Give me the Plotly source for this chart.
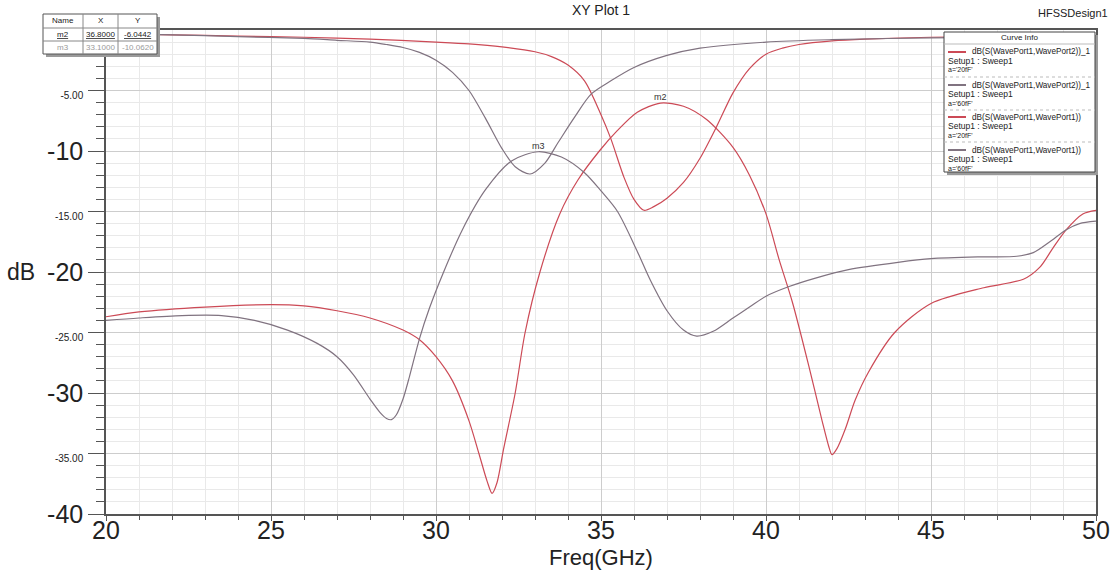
import plotly.graph_objects as go

# ---------------- data ----------------
# S21, a='20fF' (red, upper curve)
f_s21_20 = [20, 22, 24, 26, 28, 30, 31, 32, 33, 33.5, 34, 34.5, 35, 35.3, 35.7, 36.0, 36.3,
            36.6, 37.0, 37.5, 38.0, 38.5, 39.0, 39.5, 40, 40.5, 41, 42, 43, 45, 47, 50]
db_s21_20 = [-0.3, -0.4, -0.5, -0.6, -0.75, -1.0, -1.15, -1.4, -1.8, -2.2, -2.9, -4.2, -7.0, -9.0, -12.2, -14.0, -14.9,
             -14.6, -13.9, -12.6, -10.6, -8.0, -5.2, -3.2, -2.0, -1.5, -1.2, -0.9, -0.75, -0.6, -0.55, -0.5]

# S21, a='60fF' (grey, upper curve)
f_s21_60 = [20, 22, 24, 26, 27, 28, 28.5, 29, 29.5, 30, 30.5, 31, 31.5, 32, 32.4, 32.85, 33.3, 33.7, 34.2, 34.7,
            35.3, 36, 37, 38, 40, 42, 45, 50]
db_s21_60 = [-0.3, -0.4, -0.55, -0.7, -0.85, -1.0, -1.2, -1.45, -1.85, -2.5, -3.5, -5.0, -7.3, -9.8, -11.3, -11.9,
             -11.0, -9.3, -7.2, -5.3, -4.2, -3.1, -2.1, -1.5, -1.0, -0.8, -0.65, -0.55]

# S11, a='20fF' (red, lower curve)
f_s11_20 = [20, 21, 23, 25, 26, 27, 28, 29, 29.5, 30, 30.5, 31, 31.3, 31.55, 31.7, 31.85, 32.05, 32.4, 32.7,
            33.15, 33.75, 34.3, 34.95, 35.5, 36.1, 36.8, 37.5, 38.2, 39, 39.5, 40, 40.4, 40.8, 41.3, 41.7, 41.9,
            42.0, 42.15, 42.4, 42.7, 43.1, 43.9, 45, 46.6, 47.8, 48.3, 48.7, 49.1, 49.6, 50]
db_s11_20 = [-23.7, -23.3, -22.9, -22.7, -22.8, -23.2, -23.8, -24.8, -25.6, -27.0, -29.0, -32.3, -35.0, -37.3, -38.3,
             -37.4, -34.6, -30.0, -25.0, -20.0, -15.2, -12.4, -10.0, -8.3, -6.8, -6.04, -6.3, -7.4, -9.7, -12.0,
             -15.2, -19.0, -22.5, -27.8, -32.3, -34.4, -35.1, -34.6, -33.0, -30.6, -28.3, -25.0, -22.6, -21.3,
             -20.6, -19.6, -18.0, -16.5, -15.2, -14.9]

# S11, a='60fF' (grey, lower curve)
f_s11_60 = [20, 21, 22.3, 23.5, 24.5, 25.5, 26.4, 27.0, 27.5, 28.0, 28.3, 28.5, 28.65, 28.8, 29.0, 29.2, 29.5, 29.8,
            30.2, 30.8, 31.5, 32.3, 33.1, 33.8, 34.5, 35, 35.5, 36.1, 36.5, 37.0, 37.5, 37.9, 38.4, 39,
            39.5, 40, 40.7, 41.5, 42.5, 44, 45, 46.5, 47.6, 48.1, 48.6, 49.1, 49.5, 50]
db_s11_60 = [-24.0, -23.8, -23.6, -23.6, -24.0, -24.8, -25.9, -27.0, -28.5, -30.5, -31.6, -32.1, -32.2, -31.8, -30.5,
             -28.6, -25.5, -23.0, -20.2, -16.5, -13.2, -10.8, -10.06, -10.5, -11.8, -13.3, -15.0, -18.3, -20.7,
             -23.2, -24.8, -25.3, -24.9, -23.8, -22.9, -22.0, -21.2, -20.5, -19.8, -19.2, -18.9, -18.75, -18.7,
             -18.4, -17.5, -16.5, -16.0, -15.8]

marker_names = ["m2", "m3"]
marker_x = [36.8, 33.1]
marker_y = [-6.0442, -10.0620]

series_names = ["dB(S(WavePort1,WavePort2))_1", "dB(S(WavePort1,WavePort2))_1",
                "dB(S(WavePort1,WavePort1))", "dB(S(WavePort1,WavePort1))"]
series_params = ["a='20fF'", "a='60fF'", "a='20fF'", "a='60fF'"]

y_tickvals = [-40, -35, -30, -25, -20, -15, -10, -5]
x_tickvals = [20, 25, 30, 35, 40, 45, 50]

# ---------------- styling ----------------
RED = "rgb(204,74,86)"
GREY = "rgb(128,115,128)"
FONT = "Liberation Sans, Arial, sans-serif"
colors = [RED, GREY, RED, GREY]

fig = go.Figure()
curves = [(f_s21_20, db_s21_20), (f_s21_60, db_s21_60), (f_s11_20, db_s11_20), (f_s11_60, db_s11_60)]
for (fx, fy), c, n, p in zip(curves, colors, series_names, series_params):
    fig.add_trace(go.Scatter(x=fx, y=fy, mode="lines", name=n + " " + p,
                             line=dict(color=c, width=1.2, shape="spline", smoothing=0.8),
                             showlegend=False, hoverinfo="x+y"))

def ylab(v):
    if v % 10 == 0:
        return str(v)
    return '<span style="font-size:10px">%.2f</span>' % v

fig.update_layout(
    width=1112, height=571,
    margin=dict(l=106, r=16, t=30, b=57, autoexpand=False),
    paper_bgcolor="white", plot_bgcolor="white",
    font=dict(family=FONT, color="#222"),
    xaxis=dict(range=[20, 50], tickvals=x_tickvals, ticktext=[str(v) for v in x_tickvals],
               tickfont=dict(size=25, color="#222"), ticks="outside", ticklen=5, tickcolor="#555",
               ticklabelstandoff=-12,
               showgrid=True, gridcolor="#cdcdcd", gridwidth=1, automargin=False,
               minor=dict(dtick=1, showgrid=True, gridcolor="#e9e9e9", ticks="outside", ticklen=4,
                          tickcolor="#555"),
               showline=True, linecolor="#555", linewidth=1.5, mirror=True, zeroline=False),
    yaxis=dict(range=[-40, 0], tickvals=y_tickvals, ticktext=[ylab(v) for v in y_tickvals],
               tickfont=dict(size=25, color="#222"), ticks="outside", ticklen=16, tickcolor="#555",
               showgrid=True, gridcolor="#cdcdcd", gridwidth=1, automargin=False,
               minor=dict(dtick=1, showgrid=True, gridcolor="#e9e9e9", ticks="outside", ticklen=8,
                          tickcolor="#555"),
               showline=True, linecolor="#555", linewidth=1.5, mirror=True, zeroline=False),
)

W, H = 990.0, 484.0  # plot area size in px
def px(xpix):
    return (xpix - 106) / W
def py(ypix):
    return 1 - (ypix - 30) / H

ann = []
# titles
ann.append(dict(text="XY Plot 1", x=0.5, y=1, xref="paper", yref="paper", xanchor="center",
                yanchor="bottom", yshift=10, showarrow=False, font=dict(size=14, color="#222")))
ann.append(dict(text="HFSSDesign1", x=1, y=1, xref="paper", yref="paper", xanchor="right",
                yanchor="bottom", xshift=14, yshift=9, showarrow=False, font=dict(size=11, color="#222")))
ann.append(dict(text="dB", x=0, y=-20, xref="paper", yref="y", xanchor="right", yanchor="middle",
                xshift=-69, showarrow=False, font=dict(size=23, color="#222")))
ann.append(dict(text="Freq(GHz)", x=0.5, y=py(557), xref="paper", yref="paper", xanchor="center",
                yanchor="middle", showarrow=False, font=dict(size=22, color="#222")))
# marker labels on curves
for n, mx, my in zip(marker_names, marker_x, marker_y):
    ann.append(dict(text=n, x=mx, y=my, xref="x", yref="y", showarrow=False, yshift=6,
                    xanchor="center", font=dict(size=9, color="#333")))

shapes = []
# ---- legend box ("Curve Info") in paper coords ----
bx0, bx1, by0, by1 = 944, 1095, 32, 172
shapes.append(dict(type="rect", xref="paper", yref="paper", x0=px(bx0 + 3), x1=px(bx1 + 3),
                   y0=py(by1 + 3), y1=py(by0 + 3), fillcolor="#9a9a9a", line=dict(width=0), layer="above"))
shapes.append(dict(type="rect", xref="paper", yref="paper", x0=px(bx0), x1=px(bx1),
                   y0=py(by1), y1=py(by0), fillcolor="white", line=dict(color="#444", width=1), layer="above"))
ann.append(dict(text="Curve Info", x=px((bx0 + bx1) / 2), y=py(38), xref="paper", yref="paper",
                showarrow=False, font=dict(size=8, color="#222"), xanchor="center", yanchor="middle"))
shapes.append(dict(type="line", xref="paper", yref="paper", x0=px(bx0), x1=px(bx1), y0=py(44), y1=py(44),
                   line=dict(color="#bbb", width=1), layer="above"))
entry_y = [52, 85, 117, 150]
for i, (n, p, c) in enumerate(zip(series_names, series_params, colors)):
    ey = entry_y[i]
    shapes.append(dict(type="line", xref="paper", yref="paper", x0=px(948), x1=px(966), y0=py(ey), y1=py(ey),
                       line=dict(color=c, width=2), layer="above"))
    ann.append(dict(text=n, x=px(970), y=py(ey), xref="paper", yref="paper", xanchor="left",
                    yanchor="middle", showarrow=False, font=dict(size=8.2, color="#222")))
    ann.append(dict(text="Setup1 : Sweep1", x=px(946), y=py(ey + 9), xref="paper", yref="paper",
                    xanchor="left", yanchor="middle", showarrow=False, font=dict(size=8.5, color="#222")))
    ann.append(dict(text=p, x=px(946), y=py(ey + 18), xref="paper", yref="paper",
                    xanchor="left", yanchor="middle", showarrow=False, font=dict(size=7, color="#222")))
    if i < 3:
        shapes.append(dict(type="line", xref="paper", yref="paper", x0=px(bx0), x1=px(bx1),
                           y0=py(ey + 25), y1=py(ey + 25),
                           line=dict(color="#bbb", width=1, dash="dot"), layer="above"))

# ---- marker table (top-left) ----
tx = [43, 83, 118, 157]
ty = [14, 28, 41, 54]
shapes.append(dict(type="rect", xref="paper", yref="paper", x0=px(tx[0] + 3), x1=px(tx[-1] + 3),
                   y0=py(ty[-1] + 3), y1=py(ty[0] + 3), fillcolor="#9a9a9a", line=dict(width=0), layer="above"))
shapes.append(dict(type="rect", xref="paper", yref="paper", x0=px(tx[0]), x1=px(tx[-1]),
                   y0=py(ty[-1]), y1=py(ty[0]), fillcolor="white", line=dict(color="#555", width=1), layer="above"))
for xv in tx[1:-1]:
    shapes.append(dict(type="line", xref="paper", yref="paper", x0=px(xv), x1=px(xv), y0=py(ty[-1]), y1=py(ty[0]),
                       line=dict(color="#888", width=1), layer="above"))
for yv in ty[1:-1]:
    shapes.append(dict(type="line", xref="paper", yref="paper", x0=px(tx[0]), x1=px(tx[-1]), y0=py(yv), y1=py(yv),
                       line=dict(color="#888", width=1), layer="above"))
header = ["Name", "X", "Y"]
rows = [header] + [[n, "%.4f" % mx, "%.4f" % my] for n, mx, my in zip(marker_names, marker_x, marker_y)]
for r, row in enumerate(rows):
    for cidx, txt in enumerate(row):
        if r == 1:
            txt = "<u>" + txt + "</u>"
        col = "#222" if r < 2 else "#9a9a9a"
        ann.append(dict(text=txt, x=px((tx[cidx] + tx[cidx + 1]) / 2), y=py((ty[r] + ty[r + 1]) / 2),
                        xref="paper", yref="paper", showarrow=False, xanchor="center", yanchor="middle",
                        font=dict(size=8, color=col)))

fig.update_layout(annotations=ann, shapes=shapes)
fig.write_html("out.html")
